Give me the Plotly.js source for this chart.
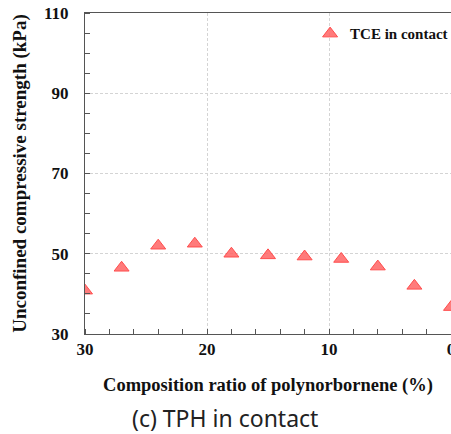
<!DOCTYPE html>
<html><head><meta charset="utf-8">
<script src="https://cdn.plot.ly/plotly-3.0.1.min.js"></script>
<style>body{margin:0;background:#fff}#c{width:451px;height:434px}</style>
</head><body><div id="c"></div>
<script>
const seriesName = "TCE in contact";
const ratio = [30, 27, 24, 21, 18, 15, 12, 9, 6, 3, 0];
const strength = [40.8, 46.5, 52.0, 52.5, 50.0, 49.6, 49.3, 48.7, 46.8, 42.0, 36.7];
const xTicks = [30, 20, 10, 0];
const yTicks = [30, 50, 70, 90, 110];
const xTitle = "Composition ratio of polynorbornene (%)";
const yTitle = "Unconfined compressive strength (kPa)";
const caption = "(c) TPH in contact";

const serif = "Liberation Serif, Times New Roman, serif";
const trace = {
  x: ratio, y: strength, type: "scatter", mode: "markers", name: seriesName,
  marker: {symbol: "triangle-up", size: 13, color: "rgba(255,100,100,0.85)", line: {color: "#ff4d4d", width: 1}},
  cliponaxis: true
};
const layout = {
  width: 451, height: 434,
  margin: {l: 85, r: 0, t: 13, b: 100, autoexpand: false},
  paper_bgcolor: "#fff", plot_bgcolor: "#fff",
  showlegend: true,
  legend: {x: 0.615, y: 0.935, xanchor: "left", yanchor: "middle", bgcolor: "rgba(0,0,0,0)",
    font: {family: serif, size: 15, color: "#111", weight: "bold"}, itemwidth: 30, tracegroupgap: 0},
  xaxis: {
    range: [30, 0], tickvals: xTicks, ticktext: xTicks.map(String),
    showline: true, linecolor: "#555", linewidth: 1, mirror: true,
    showgrid: true, gridcolor: "#d4d4d4", griddash: "3px,2px", gridwidth: 1,
    ticks: "", zeroline: false, automargin: false, ticklabeloverflow: "allow",
    minor: {dtick: 2, tick0: 0, ticks: "inside", ticklen: 5, tickcolor: "#555", showgrid: false},
    tickfont: {family: serif, size: 17, color: "#111", weight: "bold"},
    title: {text: xTitle, font: {family: serif, size: 18.5, color: "#111", weight: "bold"}, standoff: 19}
  },
  yaxis: {
    range: [30, 110], tickvals: yTicks, ticktext: yTicks.map(String),
    showline: true, linecolor: "#555", linewidth: 1, mirror: false,
    showgrid: true, gridcolor: "#d4d4d4", griddash: "3px,2px", gridwidth: 1,
    ticks: "", zeroline: false, automargin: false, ticklabelstandoff: 12,
    minor: {dtick: 5, tick0: 0, ticks: "inside", ticklen: 5, tickcolor: "#555", showgrid: false},
    tickfont: {family: serif, size: 17, color: "#111", weight: "bold"},
    title: {text: yTitle, font: {family: serif, size: 19, color: "#111", weight: "bold"}, standoff: 12}
  },
  annotations: [{
    text: caption, xref: "paper", yref: "paper", x: 0.383, y: -0.262, xanchor: "center", yanchor: "middle",
    showarrow: false, font: {family: "Noto Sans, DejaVu Sans, sans-serif", size: 23, color: "#222"}
  }]
};
Plotly.newPlot("c", [trace], layout, {staticPlot: true, displayModeBar: false});
</script></body></html>
